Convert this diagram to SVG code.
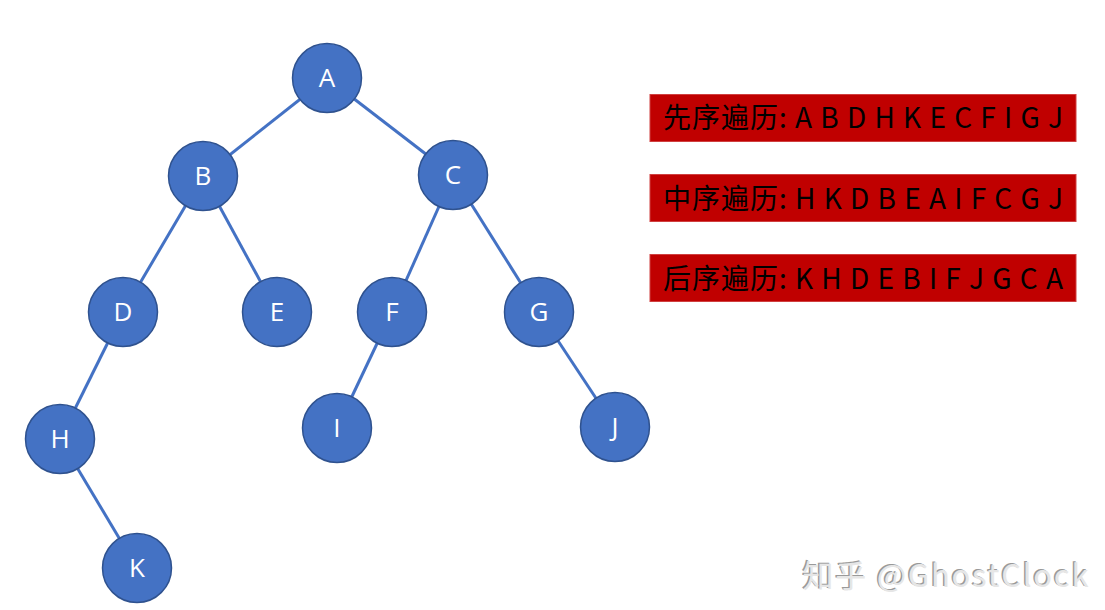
<svg xmlns="http://www.w3.org/2000/svg" width="1105" height="610" viewBox="0 0 1105 610">
<style>
.n circle{fill:#4472C4;stroke:#2F528F;stroke-width:1.5}
.n text{fill:#fff;font-family:"Open Sans","Liberation Sans",sans-serif;font-size:26px;text-anchor:middle}
.e line{stroke:#4472C4;stroke-width:3}
.lb rect{fill:#C00000;stroke:#d04040;stroke-width:1}
.lb text{fill:#000;font-family:"Noto Sans CJK SC","Noto Sans",sans-serif;font-size:28px}
.wm{font-family:"Noto Sans CJK SC","Noto Sans",sans-serif;font-size:31px}
</style>
<rect width="1105" height="610" fill="#fff"/>
<g id="connectors" class="e">
<line x1="327" y1="78" x2="203" y2="176"/>
<line x1="327" y1="78" x2="453" y2="175"/>
<line x1="203" y1="176" x2="123" y2="312"/>
<line x1="203" y1="176" x2="277" y2="312"/>
<line x1="453" y1="175" x2="392" y2="312"/>
<line x1="453" y1="175" x2="539" y2="312"/>
<line x1="123" y1="312" x2="60" y2="439"/>
<line x1="60" y1="439" x2="137" y2="568"/>
<line x1="392" y1="312" x2="337" y2="428"/>
<line x1="539" y1="312" x2="615" y2="427"/>
</g>
<g id="A" class="n"><circle cx="327" cy="78" r="34.5"/><text x="327" y="87">A</text></g>
<g id="B" class="n"><circle cx="203" cy="176" r="34.5"/><text x="203" y="185">B</text></g>
<g id="C" class="n"><circle cx="453" cy="175" r="34.5"/><text x="453" y="184">C</text></g>
<g id="D" class="n"><circle cx="123" cy="312" r="34.5"/><text x="123" y="321">D</text></g>
<g id="E" class="n"><circle cx="277" cy="312" r="34.5"/><text x="277" y="321">E</text></g>
<g id="F" class="n"><circle cx="392" cy="312" r="34.5"/><text x="392" y="321">F</text></g>
<g id="G" class="n"><circle cx="539" cy="312" r="34.5"/><text x="539" y="321">G</text></g>
<g id="H" class="n"><circle cx="60" cy="439" r="34.5"/><text x="60" y="448">H</text></g>
<g id="I" class="n"><circle cx="337" cy="428" r="34.5"/><text x="337" y="437">I</text></g>
<g id="J" class="n"><circle cx="615" cy="427" r="34.5"/><text x="615" y="436">J</text></g>
<g id="K" class="n"><circle cx="137" cy="568" r="34.5"/><text x="137" y="577">K</text></g>
<g id="preorder" class="lb"><rect x="650" y="94.5" width="426" height="47"/><text x="663" y="128" textLength="400" lengthAdjust="spacing">先序遍历: A B D H K E C F I G J</text></g>
<g id="inorder" class="lb"><rect x="650" y="174.5" width="426" height="47"/><text x="663" y="209" textLength="400" lengthAdjust="spacing">中序遍历: H K D B E A I F C G J</text></g>
<g id="postorder" class="lb"><rect x="650" y="254.5" width="426" height="47"/><text x="663" y="289" textLength="400" lengthAdjust="spacing">后序遍历: K H D E B I F J G C A</text></g>
<g id="watermark">
<text class="wm" x="801" y="586" fill="#9a9a9a" textLength="286">知乎 @GhostClock</text>
<text class="wm" x="802.5" y="587" fill="#e6e6e6" textLength="286">知乎 @GhostClock</text>
</g>
</svg>
